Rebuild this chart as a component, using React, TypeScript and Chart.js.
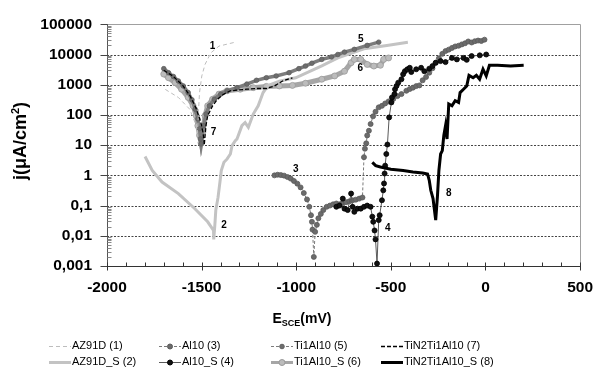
import React, { useEffect, useRef } from 'react';
import { Chart, registerables } from 'chart.js';

Chart.register(...registerables);

const FONT = '"Liberation Sans", Arial, Helvetica, sans-serif';

// ---- Data: E (mV vs SCE), j (µA/cm²) ----
// (1) AZ91D
const az91dE = [-1692, -1623, -1563, -1528, -1522, -1516, -1511, -1499, -1482, -1451, -1408, -1322];
const az91dJ = [700, 380, 155, 44, 25, 155, 550, 1950, 4700, 11400, 19000, 25600];
// (2) AZ91D_S
const az91dSE = [-1799, -1761, -1709, -1623, -1537, -1468, -1437, -1436, -1430, -1425, -1413, -1402, -1396, -1382, -1365, -1348, -1339, -1322, -1313, -1287, -1270, -1253, -1227, -1201, -1175, -1149, -1089, -1003, -865, -780, -642, -521, -410];
const az91dSJ = [4.2, 1.45, 0.6, 0.25, 0.08, 0.029, 0.015, 0.0076, 0.023, 0.071, 0.19, 0.69, 1.45, 2.7, 3.5, 5.1, 9.7, 14, 16, 44, 56, 39, 107, 200, 550, 950, 1320, 1700, 4200, 7700, 15500, 20000, 25600];
// (3) Al10
const al10E = [-1115, -1098, -1081, -1064, -1046, -1029, -1012, -994, -977, -960, -943, -931, -922, -917, -914, -907, -900, -891, -883, -870, -857, -839, -822, -805, -788, -771, -754, -736, -719, -702, -685, -667, -650, -642, -637, -630, -625, -616, -607, -594, -581, -564, -547, -530, -512, -487, -465, -444, -418, -400, -383, -366, -349, -332, -314, -297, -280, -263, -246, -228, -211, -194, -177, -160, -142, -125, -108, -91, -73, -56, -39, -22, -5];
const al10J = [1.0, 1.05, 1.02, 0.98, 0.88, 0.78, 0.65, 0.53, 0.4, 0.26, 0.16, 0.091, 0.048, 0.029, 0.016, 0.002, 0.0135, 0.023, 0.038, 0.053, 0.071, 0.091, 0.1, 0.11, 0.117, 0.11, 0.123, 0.13, 0.138, 0.15, 0.157, 0.17, 0.185, 4.0, 7.6, 11.5, 21, 30, 50, 90, 128, 178, 200, 240, 280, 340, 420, 490, 630, 720, 800, 900, 950, 1400, 1800, 2500, 3500, 5300, 7500, 10500, 13000, 14500, 16500, 18500, 19500, 21600, 23500, 27000, 25000, 27500, 29000, 28000, 31000];
// (4) Al10_S
const al10SE = [-788, -771, -754, -745, -728, -710, -702, -693, -676, -659, -642, -625, -607, -598, -593, -586, -581, -573, -564, -559, -547, -540, -536, -533, -530, -524, -518, -509, -497, -494, -481, -478, -470, -461, -444, -435, -426, -413, -400, -392, -366, -340, -323, -297, -280, -263, -237, -211, -177, -151, -116, -99, -73, -30, 4];
const al10SJ = [0.091, 0.1, 0.17, 0.079, 0.071, 0.25, 0.091, 0.062, 0.079, 0.079, 0.091, 0.1, 0.091, 0.043, 0.029, 0.015, 0.0076, 0.0012, 0.033, 0.048, 0.15, 0.32, 0.54, 1.15, 2.1, 5.1, 10.5, 83, 260, 380, 490, 710, 910, 1170, 1520, 2230, 2800, 3240, 3640, 2630, 3240, 3640, 2800, 3400, 4150, 5350, 6050, 5600, 7730, 6900, 7730, 6650, 8900, 9400, 10000];
// (5) Ti1Al10
const ti1al10E = [-1700, -1675, -1649, -1623, -1597, -1571, -1551, -1534, -1520, -1511, -1506, -1503, -1489, -1477, -1459, -1433, -1399, -1365, -1313, -1261, -1210, -1158, -1106, -1038, -986, -951, -917, -865, -814, -780, -745, -693, -625, -564];
const ti1al10J = [3400, 2500, 1870, 1330, 910, 550, 316, 155, 74, 35, 16, 11, 44, 107, 200, 330, 490, 630, 800, 1050, 1400, 1700, 1950, 2500, 3400, 4150, 5150, 6900, 8300, 10000, 12000, 14800, 20000, 25600];
// (6) Ti1Al10_S
const ti1al10SE = [-1700, -1675, -1640, -1606, -1571, -1545, -1528, -1520, -1511, -1503, -1494, -1482, -1468, -1442, -1408, -1365, -1296, -1227, -1158, -1089, -1020, -951, -865, -797, -745, -710, -693, -659, -625, -590, -555, -538, -512];
const ti1al10SJ = [2250, 1700, 1170, 710, 380, 200, 94, 44, 21, 12, 26, 94, 200, 330, 490, 630, 710, 800, 880, 910, 950, 1120, 1520, 1950, 2800, 5350, 6900, 6900, 4700, 4150, 4400, 6900, 7700];
// (7) TiN2Ti1Al10
const tin2E = [-1700, -1650, -1600, -1560, -1530, -1505, -1492, -1486, -1477, -1468, -1442, -1416, -1382, -1348, -1261, -1210, -1158, -1115, -1072, -1020];
const tin2J = [3000, 1900, 950, 420, 170, 60, 25, 10, 44, 94, 200, 330, 490, 630, 710, 750, 750, 910, 1330, 1700];
// (8) TiN2Ti1Al10_S
const tin2SE = [-598, -580, -555, -500, -435, -383, -332, -306, -297, -289, -277, -263, -254, -246, -237, -228, -220, -211, -203, -194, -177, -160, -142, -134, -116, -99, -87, -65, -48, -31, -13, 4, 21, 64, 133, 202];
const tin2SJ = [2.7, 2.1, 1.9, 1.6, 1.45, 1.3, 1.2, 1.1, 0.69, 0.32, 0.17, 0.033, 0.19, 1.45, 5.1, 6.6, 21, 44, 16, 230, 200, 295, 260, 550, 710, 910, 2040, 1700, 2040, 1520, 3260, 1950, 4400, 4400, 4150, 4400];

const seriesNames = ['AZ91D (1)', 'AZ91D_S (2)', 'Al10 (3)', 'Al10_S (4)', 'Ti1Al10 (5)', 'Ti1Al10_S (6)', 'TiN2Ti1Al10 (7)', 'TiN2Ti1Al10_S (8)'];
const seriesE = [az91dE, az91dSE, al10E, al10SE, ti1al10E, ti1al10SE, tin2E, tin2SE];
const seriesJ = [az91dJ, az91dSJ, al10J, al10SJ, ti1al10J, ti1al10SJ, tin2J, tin2SJ];

const xTickValues = [-2000, -1500, -1000, -500, 0, 500];
const xTickLabels = ['-2000', '-1500', '-1000', '-500', '0', '500'];
const yTickValues = [0.001, 0.01, 0.1, 1, 10, 100, 1000, 10000, 100000];
const yTickLabels = ['0,001', '0,01', '0,1', '1', '10', '100', '1000', '10000', '100000'];

const curveLabelText = ['1', '2', '3', '4', '5', '6', '7', '8'];
const curveLabelE = [-1442, -1382, -1003, -516, -659, -662, -1437, -194];
const curveLabelJ = [19000, 0.023, 1.55, 0.018, 31600, 3400, 26, 0.26];

// ---- styles ----
type S = { color: string; width: number; dash: number[]; point: number; pointColor?: string; pointBorder?: string; order: number; lDash?: number[]; lWidth?: number };
const styles: S[] = [
  { color: '#bdbdbd', width: 1, dash: [4, 3], point: 0, order: 4 },
  { color: '#c3c3c3', width: 3, dash: [], point: 0, order: 6 },
  { color: '#7a7a7a', width: 1, dash: [3, 2], point: 2.5, pointColor: '#6b6b6b', pointBorder: '#5a5a5a', order: 3 },
  { color: '#5a5a5a', width: 1, dash: [], point: 2.5, pointColor: '#111', pointBorder: '#000', order: 2 },
  { color: '#7c7c7c', width: 3.5, dash: [], point: 2.3, pointColor: '#6d6d6d', pointBorder: '#5f5f5f', order: 5, lDash: [3, 2], lWidth: 1 },
  { color: '#a6a6a6', width: 5, dash: [], point: 3, pointColor: '#bcbcbc', pointBorder: '#9a9a9a', order: 7, lWidth: 3 },
  { color: '#000', width: 1.3, dash: [4, 2], point: 0, order: 1 },
  { color: '#000', width: 3, dash: [], point: 0, order: 0 },
];

const decor = {
  id: 'decor',
  beforeDatasetsDraw(chart: any) {
    const { ctx, chartArea: a, scales } = chart;
    const y = scales.y;
    ctx.save();
    ctx.strokeStyle = '#444';
    ctx.lineWidth = 1;
    ctx.setLineDash([2, 1.5]);
    for (const v of yTickValues.slice(1, -1)) {
      const py = Math.round(y.getPixelForValue(v)) + 0.5;
      ctx.beginPath(); ctx.moveTo(a.left, py); ctx.lineTo(a.right, py); ctx.stroke();
    }
    ctx.setLineDash([]);
    ctx.strokeStyle = '#a0a0a0';
    const top = Math.round(a.top) + 0.5, right = Math.round(a.right) + 0.5;
    ctx.beginPath(); ctx.moveTo(a.left, top); ctx.lineTo(right, top); ctx.lineTo(right, a.bottom); ctx.stroke();
    ctx.restore();
  },
  afterDatasetsDraw(chart: any) {
    const { ctx, chartArea: a, scales } = chart;
    const x = scales.x, y = scales.y;
    ctx.save();
    const left = Math.round(a.left) + 0.5, bottom = Math.round(a.bottom) + 0.5;
    ctx.lineWidth = 1;
    ctx.strokeStyle = '#555';
    ctx.beginPath(); ctx.moveTo(left, a.top); ctx.lineTo(left, bottom); ctx.stroke();
    ctx.strokeStyle = '#333';
    ctx.beginPath(); ctx.moveTo(a.left, bottom); ctx.lineTo(a.right, bottom); ctx.stroke();
    for (let d = 0; d < yTickValues.length; d++) {
      const v = yTickValues[d];
      const py = Math.round(y.getPixelForValue(v)) + 0.5;
      ctx.strokeStyle = '#444';
      ctx.beginPath(); ctx.moveTo(left - 7, py); ctx.lineTo(left, py); ctx.stroke();
      if (d < yTickValues.length - 1) {
        ctx.strokeStyle = '#888';
        for (let m = 2; m <= 9; m++) {
          const pm = Math.round(y.getPixelForValue(v * m)) + 0.5;
          ctx.beginPath(); ctx.moveTo(left, pm); ctx.lineTo(left + 4, pm); ctx.stroke();
        }
      }
    }
    ctx.strokeStyle = '#333';
    for (let v = -2000; v <= 500; v += 100) {
      const px = Math.round(x.getPixelForValue(v)) + 0.5;
      const major = v % 500 === 0;
      ctx.beginPath(); ctx.moveTo(px, bottom - 4); ctx.lineTo(px, bottom + (major ? 4 : 0)); ctx.stroke();
    }
    ctx.fillStyle = '#000';
    ctx.font = `bold 10px ${FONT}`;
    ctx.textAlign = 'center';
    ctx.textBaseline = 'middle';
    curveLabelText.forEach((t, i) => {
      ctx.fillText(t, x.getPixelForValue(curveLabelE[i]), y.getPixelForValue(curveLabelJ[i]));
    });
    ctx.restore();
  },
  afterDraw(chart: any) {
    const { ctx } = chart;
    ctx.save();
    ctx.fillStyle = '#000';
    ctx.textAlign = 'left';
    ctx.textBaseline = 'alphabetic';
    ctx.font = `bold 14px ${FONT}`;
    const wE = ctx.measureText('E').width;
    const wM = ctx.measureText('(mV)').width;
    ctx.font = `bold 9px ${FONT}`;
    const wS = ctx.measureText('SCE').width;
    const sx = 302 - (wE + wS + wM) / 2;
    ctx.font = `bold 14px ${FONT}`;
    ctx.fillText('E', sx, 323);
    ctx.font = `bold 9px ${FONT}`;
    ctx.fillText('SCE', sx + wE, 326);
    ctx.font = `bold 14px ${FONT}`;
    ctx.fillText('(mV)', sx + wE + wS, 323);
    ctx.save();
    ctx.translate(26, 141);
    ctx.rotate(-Math.PI / 2);
    ctx.font = `bold 18px ${FONT}`;
    const wa = ctx.measureText('j(μA/cm').width;
    const wc = ctx.measureText(')').width;
    ctx.font = `bold 11px ${FONT}`;
    const w2 = ctx.measureText('2').width;
    const st = -(wa + w2 + wc) / 2;
    ctx.font = `bold 18px ${FONT}`;
    ctx.fillText('j(μA/cm', st, 0);
    ctx.font = `bold 11px ${FONT}`;
    ctx.fillText('2', st + wa, -7);
    ctx.font = `bold 18px ${FONT}`;
    ctx.fillText(')', st + wa + w2, 0);
    ctx.restore();
    const colX = [49, 159, 271, 381];
    const rowY = [346, 362];
    ctx.font = `11px ${FONT}`;
    ctx.textBaseline = 'middle';
    for (let c = 0; c < 4; c++) {
      for (let r = 0; r < 2; r++) {
        const i = c * 2 + r;
        const s = styles[i];
        const x0 = colX[c], yy = rowY[r] + 0.5;
        ctx.strokeStyle = s.color;
        ctx.lineWidth = s.lWidth ?? s.width;
        ctx.setLineDash(s.lDash ?? s.dash);
        ctx.beginPath(); ctx.moveTo(x0, yy); ctx.lineTo(x0 + 22, yy); ctx.stroke();
        ctx.setLineDash([]);
        if (s.point) {
          ctx.fillStyle = s.pointColor!;
          ctx.strokeStyle = s.pointBorder!;
          ctx.lineWidth = 1;
          ctx.beginPath(); ctx.arc(x0 + 11, yy, s.point, 0, Math.PI * 2); ctx.fill(); ctx.stroke();
        }
        ctx.fillStyle = '#000';
        ctx.fillText(seriesNames[i], x0 + 23, rowY[r]);
      }
    }
    ctx.restore();
  },
};

export default function App() {
  const ref = useRef<HTMLCanvasElement>(null);
  useEffect(() => {
    document.body.style.margin = '0';
    const datasets = seriesNames.map((name, i) => {
      const s = styles[i];
      return {
        label: name,
        data: seriesE[i].map((e, k) => ({ x: e, y: seriesJ[i][k] })),
        showLine: true,
        borderColor: s.color,
        borderWidth: s.width,
        borderDash: s.dash,
        pointRadius: s.point,
        pointBackgroundColor: s.pointColor ?? s.color,
        pointBorderColor: s.pointBorder ?? s.color,
        pointBorderWidth: s.point ? 0.8 : 0,
        pointHoverRadius: 0,
        tension: 0,
        order: s.order,
      };
    });
    const chart = new Chart(ref.current!, {
      type: 'scatter',
      data: { datasets } as any,
      options: {
        animation: false,
        responsive: false,
        maintainAspectRatio: false,
        events: [],
        layout: { padding: { top: 23, right: 14, left: 0, bottom: 0 } },
        plugins: { legend: { display: false }, tooltip: { enabled: false } },
        scales: {
          x: {
            type: 'linear',
            min: -2000,
            max: 500,
            afterBuildTicks: (s: any) => { s.ticks = xTickValues.map((v) => ({ value: v })); },
            afterFit: (s: any) => { s.height = 115; },
            grid: { display: false, drawTicks: false },
            border: { display: false },
            ticks: {
              autoSkip: false,
              maxRotation: 0,
              padding: 12,
              color: '#000',
              font: { family: FONT, size: 15.5, weight: 'bold' },
              callback: (_v: any, idx: number) => xTickLabels[idx],
            },
          },
          y: {
            type: 'logarithmic',
            min: 0.001,
            max: 100000,
            afterBuildTicks: (s: any) => { s.ticks = yTickValues.map((v) => ({ value: v })); },
            afterFit: (s: any) => { s.width = 107; },
            grid: { display: false, drawTicks: false },
            border: { display: false },
            ticks: {
              autoSkip: false,
              padding: 15,
              color: '#000',
              font: { family: FONT, size: 15.5, weight: 'bold' },
              callback: (_v: any, idx: number) => yTickLabels[idx],
            },
          },
        },
      } as any,
      plugins: [decor],
    });
    return () => chart.destroy();
  }, []);
  return <canvas ref={ref} width={605} height={381} style={{ display: 'block' }} />;
}
